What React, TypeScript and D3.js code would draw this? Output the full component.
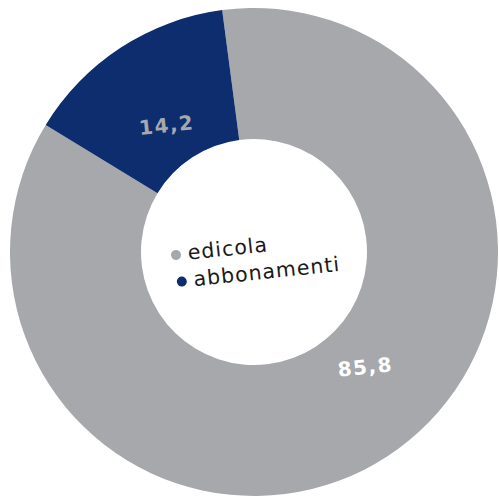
import React from "react";
import * as d3 from "d3";

const categories = ["edicola", "abbonamenti"];
const values = [85.8, 14.2];
const valueLabels = ["85,8", "14,2"];

const W = 499;
const H = 497;
const CX = 254;
const CY = 252;
const R_OUT = 244;
const R_IN = 113;
const START_DEG = -7.5;
const TILT = -6;
const colors = ["#a7a8ac", "#0d2d6e"];
const labelColors = ["#ffffff", "#a7a8ac"];
const labelShiftDeg = [-11, -1.5];
const labelRadius = [160, 154];

export default function App() {
  const start = (START_DEG * Math.PI) / 180;
  const pie = d3
    .pie<number>()
    .sort(null)
    .value((d) => d)
    .startAngle(start)
    .endAngle(start + 2 * Math.PI);
  const arcs = pie(values);
  const arc = d3.arc<d3.PieArcDatum<number>>().innerRadius(R_IN).outerRadius(R_OUT);

  return (
    <svg
      width={W}
      height={H}
      style={{ position: "absolute", left: 0, top: 0, background: "#fff" }}
    >
      <g transform={`translate(${CX},${CY})`}>
        {arcs.map((a, i) => (
          <path key={categories[i]} d={arc(a) || ""} fill={colors[i]} />
        ))}
        {arcs.map((a, i) => {
          const mid = (a.startAngle + a.endAngle) / 2 + (labelShiftDeg[i] * Math.PI) / 180;
          const r = labelRadius[i];
          const x = r * Math.sin(mid);
          const y = -r * Math.cos(mid);
          return (
            <text
              key={"l" + i}
              x={x}
              y={y}
              transform={`rotate(${TILT},${x},${y})`}
              textAnchor="middle"
              dominantBaseline="central"
              fill={labelColors[i]}
              fontFamily="DejaVu Sans"
              fontWeight="bold"
              fontSize={20}
              letterSpacing={1.5}
            >
              {valueLabels[i]}
            </text>
          );
        })}
      </g>
      <g transform={`translate(176,255) rotate(${TILT})`}>
        {categories.map((c, i) => (
          <g key={c} transform={`translate(${i * 3},${i * 27})`}>
            <circle cx={0} cy={0} r={5} fill={colors[i]} />
            <text
              x={12}
              y={6}
              fill="#1a1a1a"
              fontFamily="DejaVu Sans"
              fontSize={20.5}
              letterSpacing={1}
            >
              {c}
            </text>
          </g>
        ))}
      </g>
    </svg>
  );
}
